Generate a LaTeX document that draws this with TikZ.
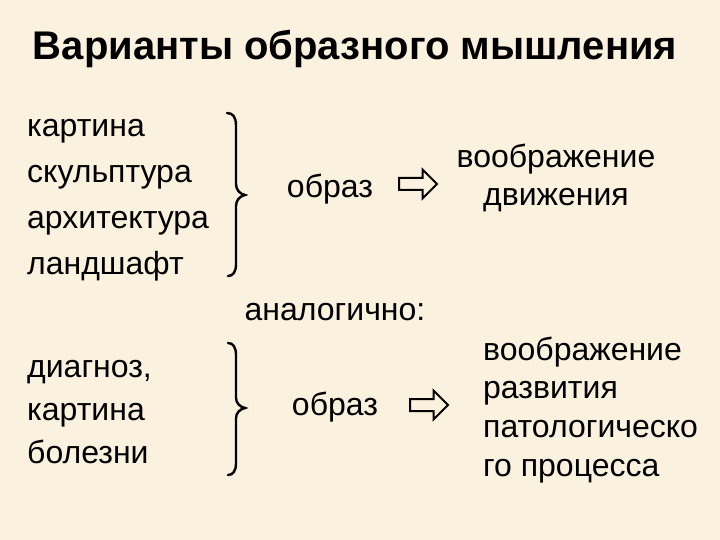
\documentclass[tikz,border=0pt]{standalone}
\usepackage{fontspec}
\setmainfont{Liberation Sans}
\usetikzlibrary{positioning,shapes.arrows}
\definecolor{paper}{RGB}{250,242,222}

\begin{document}
\begin{tikzpicture}
[
x=1pt, y=-1pt,
text-a/.style={font=\fontsize{32}{38}\selectfont, inner sep=0pt, text height=23pt, text depth=7pt},
text-l/.style={text-a, anchor=west},
title-a/.style={font=\fontsize{40}{46}\selectfont\bfseries, inner sep=0pt},
arrow-a/.style={single arrow, draw, line width=2pt, minimum height=38pt, inner sep=5pt, single arrow head extend=8.5pt},
brace-a/.style={line width=2.4pt, line cap=round}
]
\fill [paper] (0,0) rectangle (720,540);
\useasboundingbox (0,0) rectangle (720,540);

\node (title)      [title-a] at (355,49) {Варианты образного мышления};

% first group
\node (art-1)      [text-l] at (27,129)            {картина};
\node (art-2)      [text-l, below = 15.3pt of art-1.south west, anchor=north west] {скульптура};
\node (art-3)      [text-l, below = 15.3pt of art-2.south west, anchor=north west] {архитектура};
\node (art-4)      [text-l, below = 15.3pt of art-3.south west, anchor=north west] {ландшафт};
\node (word-1)     [text-a] at (330,189)           {образ};
\node (arrow-1)    [arrow-a] at (415,184)          {};
\node (move-1)     [text-a] at (556,160)           {воображение};
\node (move-2)     [text-a, below = 7pt of move-1] {движения};

\node (same)       [text-a] at (335,312)           {аналогично:};

% second group
\node (ill-1)      [text-l] at (27,369)            {диагноз,};
\node (ill-2)      [text-l, below = 13pt of ill-1.south west, anchor=north west] {картина};
\node (ill-3)      [text-l, below = 13pt of ill-2.south west, anchor=north west] {болезни};
\node (word-2)     [text-a] at (335,407)           {образ};
\node (arrow-2)    [arrow-a] at (426,405)          {};
\node (grow-1)     [text-l] at (483,352)           {воображение};
\node (grow-2)     [text-l, below = 8.3pt of grow-1.south west, anchor=north west] {развития};
\node (grow-3)     [text-l, below = 8.3pt of grow-2.south west, anchor=north west] {патологическо};
\node (grow-4)     [text-l, below = 8.3pt of grow-3.south west, anchor=north west] {го процесса};

% braces
\draw [brace-a] (227,113) .. controls (233,113) and (236,117) .. (236,126)
  -- (236,184) .. controls (236,190) and (240,194) .. (245,195)
  .. controls (240,196) and (236,200) .. (236,206)
  -- (236,264) .. controls (236,272) and (233,276) .. (228,276);
\draw [brace-a] (228,343) .. controls (233,343) and (236,347) .. (236,355)
  -- (236,398) .. controls (236,403) and (240,407) .. (245,408)
  .. controls (240,409) and (236,413) .. (236,418)
  -- (236,463) .. controls (236,471) and (233,475) .. (228,475);
\end{tikzpicture}
\end{document}
